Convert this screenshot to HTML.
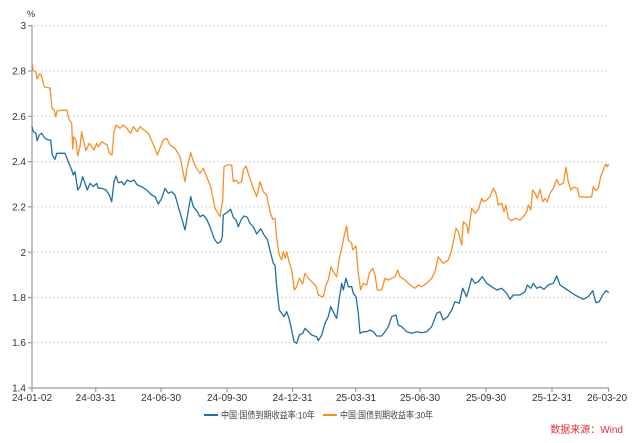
<!DOCTYPE html>
<html><head><meta charset="utf-8"><style>
body{margin:0;background:#fff;}
svg{display:block;font-family:"Liberation Sans","Noto Sans CJK SC",sans-serif;}
</style></head><body>
<svg width="640" height="443" viewBox="0 0 640 443" xmlns="http://www.w3.org/2000/svg">
<g stroke="#d9d9d9" stroke-width="1" stroke-dasharray="2,2">
<line x1="33" y1="25.7" x2="609" y2="25.7"/>
<line x1="33" y1="71" x2="609" y2="71"/>
<line x1="33" y1="116.3" x2="609" y2="116.3"/>
<line x1="33" y1="161.6" x2="609" y2="161.6"/>
<line x1="33" y1="206.9" x2="609" y2="206.9"/>
<line x1="33" y1="252.2" x2="609" y2="252.2"/>
<line x1="33" y1="297.5" x2="609" y2="297.5"/>
<line x1="33" y1="342.8" x2="609" y2="342.8"/>
</g>
<g stroke="#999" stroke-width="1.2">
<line x1="32" y1="25" x2="32" y2="388"/>
<line x1="32" y1="388" x2="609" y2="388"/>
<line x1="28" y1="25.7" x2="32" y2="25.7"/><line x1="28" y1="71" x2="32" y2="71"/><line x1="28" y1="116.3" x2="32" y2="116.3"/><line x1="28" y1="161.6" x2="32" y2="161.6"/><line x1="28" y1="206.9" x2="32" y2="206.9"/><line x1="28" y1="252.2" x2="32" y2="252.2"/><line x1="28" y1="297.5" x2="32" y2="297.5"/><line x1="28" y1="342.8" x2="32" y2="342.8"/><line x1="28" y1="388" x2="32" y2="388"/>
<line x1="32" y1="388" x2="32" y2="392"/><line x1="95.7" y1="388" x2="95.7" y2="392"/><line x1="161" y1="388" x2="161" y2="392"/><line x1="227" y1="388" x2="227" y2="392"/><line x1="292.5" y1="388" x2="292.5" y2="392"/><line x1="355.7" y1="388" x2="355.7" y2="392"/><line x1="420" y1="388" x2="420" y2="392"/><line x1="486" y1="388" x2="486" y2="392"/><line x1="552" y1="388" x2="552" y2="392"/><line x1="608.5" y1="388" x2="608.5" y2="392"/>
</g>
<g font-size="10" fill="#333" text-anchor="end">
<text x="26" y="29">3</text><text x="26" y="74.5">2.8</text><text x="26" y="120">2.6</text><text x="26" y="165">2.4</text><text x="26" y="210.5">2.2</text><text x="26" y="256">2</text><text x="26" y="301">1.8</text><text x="26" y="346">1.6</text><text x="26" y="391.5">1.4</text>
</g>
<text x="31" y="17" font-size="9" fill="#333" text-anchor="middle">%</text>
<g font-size="10" fill="#333" text-anchor="middle">
<text x="32" y="401">24-01-02</text><text x="95.7" y="401">24-03-31</text><text x="161" y="401">24-06-30</text><text x="227" y="401">24-09-30</text><text x="292.5" y="401">24-12-31</text><text x="356" y="401">25-03-31</text><text x="420" y="401">25-06-30</text><text x="486" y="401">25-09-30</text><text x="552" y="401">25-12-31</text><text x="607" y="401">26-03-20</text>
</g>
<polyline fill="none" stroke="#f7902a" stroke-width="1.3" stroke-linejoin="round" points="32,62.3 33.3,70.7 36,71.7 37,79 39.3,74 41.3,75 44.3,87 50,88 52,108 54,110 55.7,116.7 57.3,110.7 66.7,110 69.3,120 71.7,123 72.7,149 73.7,137 76,140 77.7,156 80,146.7 81.7,131.7 83.3,140 86,150.7 89.3,143.3 91.7,146.7 94,150 96.7,143.3 98.3,146.7 101.7,141.7 104,143.3 107.3,145 109.3,153.3 112,155 114,131.7 116,125 120,128.3 123.3,125 126.7,128.3 130.7,133.3 133.3,126.7 137.3,131.7 140,126.7 144,130 148.3,133.3 152.7,143.3 154.3,146.7 157.3,155 160,148.3 163.3,140 166.7,138.3 170,145 175,148.3 180,156.7 185,181.7 187.3,166.7 190.7,152.7 194,163.3 196.7,168.3 200,173.3 203.3,168.3 206.7,176.7 210.7,186.7 215,208.3 220,216.7 222.7,200 224,166.7 226.7,165 231.7,165 233.3,181.7 236,180 238.3,183.3 241.7,181.7 243.3,170 246,166 249.3,176.7 253.3,188.3 256.7,196.7 260,181.7 263.3,191.7 266.7,195 270,211.7 272.7,219.3 275,218.3 276.7,238.3 279.3,255 281.7,260 283.3,251.7 285.3,258.3 286.7,251.7 289,261.7 291.7,270 294.3,290 296.7,286.7 299.3,278.3 302.7,284 305,273.3 308.3,278.3 311.7,281.7 316,286 318.3,295 321.7,296.7 323.3,296.7 326,285 328.3,280 331,266.7 333.3,271.7 336.7,276.7 339.3,258.3 341.7,248.3 344,236.7 346.7,226 348.3,240 351.7,243.3 352.7,250 356,246 358.3,273.3 360.7,290 363.3,283.3 366.7,285 369.3,273.3 372.7,268.3 375,275 377.3,290 381.7,290 385,278.3 388.3,280 391.7,278.3 395,276.7 397.7,270 400,276.7 405,280 410,285 415,288.3 418.3,285 421.7,286.7 426.7,283.3 431.7,278.3 435,271.7 438.3,256.7 440.7,260 443.3,263.3 448.3,260 451.7,250 456,228.3 458.3,231.7 461.7,245 463.3,221.7 466.7,225 468.3,233.3 471.7,208.3 475,213.3 478.3,210 481.7,198.3 483.3,201.7 486.7,200 490,196.7 493.3,188.3 496,193.3 498.3,205 501.7,203.3 504,211.7 506,205 508.3,218.3 511.7,220.7 515,218.3 520,220 523.3,216.7 526.7,211.7 528.3,205 530.7,210 532.7,190 535,193.3 537.3,198.3 540,189.3 542.7,201.7 545,198.3 547.3,201.7 550,193.3 553.3,188.3 556.7,179.3 559.3,185 563.3,183.3 566,167.3 568.3,181.7 570.7,190 573.3,187.3 577.3,188.3 579.3,196.7 586.7,197.3 591.7,196.7 593.3,186.7 596,190.7 598.3,188.3 600.7,176.7 603.3,170 605.7,164 607.3,166.7 608.7,164"/>
<polyline fill="none" stroke="#1f6fa5" stroke-width="1.3" stroke-linejoin="round" points="32,126.7 33.3,131.7 36,133.3 37,140.7 39.3,135 41.7,133.3 45,138.3 48.3,140 50.7,140 52.3,155 55,159.3 56.7,153.3 65,153.3 68.3,161.7 71.7,170 73.3,175 75,171.7 77.7,190 80,186.7 82.7,176.7 85,183.3 87.3,190 90,183.3 93.3,186.7 96.7,183.3 98.3,188.3 101.7,188.3 106,190 109.3,195 111.7,201.7 114,181.7 116,176 118.3,182.7 121.7,181.7 124,185 127.3,180 130.7,181.7 134,180 137.3,185 141.7,186.7 146.7,190 151.7,195 155,196.7 158.3,204 161.7,198.3 165,188.3 168.3,193.3 171.7,191.7 175,195 178.3,206.7 181.7,218.3 185,230 187.3,216.7 190.7,196.7 193.3,206.7 197.3,211.7 200,216.7 203.3,215 206.7,219.3 210,226.7 214,238.3 217.3,243.3 220.7,241.7 222.3,236.7 223.3,215 226.7,212.7 230.7,209.3 233.3,217.3 236,220 238.3,226.7 241,220 244,216 247.3,217.3 250,223.3 253.3,226.7 256.7,234 260.7,228.7 264,235 267.3,239.3 270.7,253.3 273.3,263.3 275,265 276.7,286.7 279.3,310 281.7,313.3 284,316.7 286.7,311.7 289,318.3 291.7,330 294,341.7 296.7,343.3 299.3,335 302.7,333.3 305,328.3 308.3,331.7 311.7,335 316.7,336.7 318.3,340.7 321.7,335 325,323.3 328.3,316.7 330.7,306.7 334,313.3 336.7,318.3 339.3,298.3 341.7,283.3 343.3,290 346,278.3 348.3,286.7 351.7,286.7 353.3,293.3 356,296.7 358.3,313.3 360,333.3 363.3,331.7 366.7,331.7 370,330 373.3,331.7 376.7,336 381.7,336 385,331.7 388.3,326.7 391.7,316.7 396,315 398.3,325 401.7,326.7 406.7,331.7 411.7,333.3 416.7,331.7 421.7,332.7 426.7,331.7 431.7,326.7 436.7,313.3 440,311.7 443.3,320 447.7,316.7 451.7,310 455,301.7 459.3,303.3 462.7,288.3 466.7,296.7 471.7,278.3 475,283.3 478.3,281.7 482.3,276.7 486.7,283.3 491.7,286.7 496.7,290 501.7,288.3 506.7,293.3 510,299.3 513.3,295 520,295 525,291.7 527.3,285 530.7,288.3 533.3,283.3 536.7,288.3 540,286.7 544,289.3 548.3,285 553.3,283.3 556.7,276 560,285 565,288.3 570,291.7 575,295 578.3,296.7 583.3,299.3 588.3,296.7 592.7,290.7 596,302.7 599.3,301.7 602.7,295 606,290.7 608.7,292.7"/>
<line x1="204" y1="415" x2="218" y2="415" stroke="#1f6fa5" stroke-width="2"/>
<text x="221" y="418.5" font-size="9.5" fill="#444" textLength="94" lengthAdjust="spacingAndGlyphs">中国:国债到期收益率:10年</text>
<line x1="323" y1="415" x2="337" y2="415" stroke="#f7902a" stroke-width="2"/>
<text x="340" y="418.5" font-size="9.5" fill="#444" textLength="93" lengthAdjust="spacingAndGlyphs">中国:国债到期收益率:30年</text>
<text x="623" y="433" font-size="10" fill="#e0303a" text-anchor="end">数据来源：Wind</text>
</svg>
</body></html>
